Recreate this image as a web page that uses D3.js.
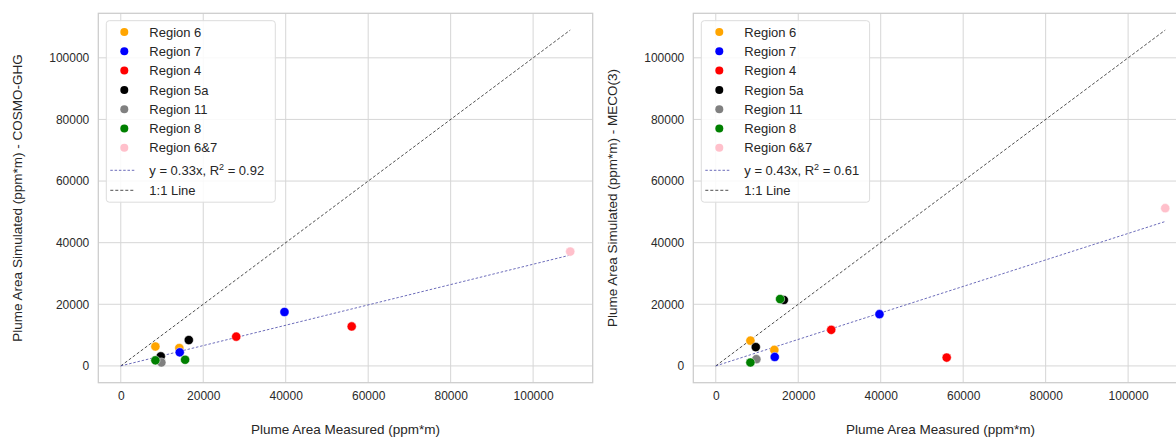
<!DOCTYPE html>
<html>
<head>
<meta charset="utf-8">
<script src="https://cdn.jsdelivr.net/npm/d3@7"></script>
<style>
  body { margin: 0; background: #fff; }
  text { font-family: Arial, "Liberation Sans", sans-serif; }
</style>
</head>
<body>
<script>
// legend order and colours
const regions = ["Region 6", "Region 7", "Region 4", "Region 5a", "Region 11", "Region 8", "Region 6&7"];
const regionColors = ["orange", "blue", "red", "black", "grey", "green", "pink"];

// one entry per plume, grouped by region (same order as legend)
const pointRegion = ["Region 6", "Region 6", "Region 7", "Region 7", "Region 4", "Region 4",
  "Region 5a", "Region 5a", "Region 11", "Region 8", "Region 8", "Region 6&7"];
const measured  = [8400, 14200, 14300, 39700, 28000, 56000, 9700, 16500, 9850, 8400, 15600, 109000];
const simCosmo  = [6300, 5800, 4400, 17500, 9500, 12800, 3100, 8400, 1100, 1800, 2000, 37100];
const simMeco   = [8200, 5200, 2900, 16800, 11700, 2700, 6100, 21400, 2200, 1100, 21700, 51200];

const slopeCosmo = 0.33, r2Cosmo = "0.92";
const slopeMeco = 0.43, r2Meco = "0.61";
const tickValues = [0, 20000, 40000, 60000, 80000, 100000];

const W = 1176, H = 439;
const boxW = 494.4, boxH = 369.4, boxTop = 13.3;
const svg = d3.select("body").append("svg").attr("width", W).attr("height", H);

const maxX = d3.max(measured);
const pad = maxX * 0.05;
const domain = [-pad, maxX + pad];

function drawPanel(left, sims, slope, r2, yLabel) {
  const x = d3.scaleLinear().domain(domain).range([left, left + boxW]);
  const y = d3.scaleLinear().domain(domain).range([boxTop + boxH, boxTop]);
  const g = svg.append("g");

  // grid
  g.selectAll(".gx").data(tickValues).enter().append("line")
    .attr("x1", d => x(d)).attr("x2", d => x(d))
    .attr("y1", boxTop).attr("y2", boxTop + boxH)
    .attr("stroke", "#d6d6d6").attr("stroke-width", 1);
  g.selectAll(".gy").data(tickValues).enter().append("line")
    .attr("x1", left).attr("x2", left + boxW)
    .attr("y1", d => y(d)).attr("y2", d => y(d))
    .attr("stroke", "#d6d6d6").attr("stroke-width", 1);

  // axes (labels only, seaborn whitegrid style)
  const xAxis = g.append("g").attr("transform", "translate(0," + (boxTop + boxH) + ")")
    .call(d3.axisBottom(x).tickValues(tickValues).tickFormat(d3.format("d")).tickSize(0).tickPadding(9));
  const yAxis = g.append("g").attr("transform", "translate(" + left + ",0)")
    .call(d3.axisLeft(y).tickValues(tickValues).tickFormat(d3.format("d")).tickSize(0).tickPadding(9));
  [xAxis, yAxis].forEach(a => {
    a.select(".domain").remove();
    a.selectAll("text").attr("fill", "#2a2a2a").style("font-size", "12px");
  });

  // frame
  g.append("rect").attr("x", left).attr("y", boxTop).attr("width", boxW).attr("height", boxH)
    .attr("fill", "none").attr("stroke", "#cccccc").attr("stroke-width", 1.25);

  const line = d3.line().x(d => x(d[0])).y(d => y(d[1]));
  g.append("path").datum([[0, 0], [maxX, maxX]]).attr("d", line)
    .attr("fill", "none").attr("stroke", "#222").attr("stroke-width", 0.8).attr("stroke-dasharray", "3,2");
  g.append("path").datum([[0, 0], [maxX, maxX * slope]]).attr("d", line)
    .attr("fill", "none").attr("stroke", "#4848a8").attr("stroke-width", 0.8).attr("stroke-dasharray", "2.5,1.8");

  // points
  const color = d3.scaleOrdinal().domain(regions).range(regionColors);
  g.selectAll(".pt").data(measured.map((m, i) => ({ m, s: sims[i], r: pointRegion[i] })))
    .enter().append("circle")
    .attr("cx", d => x(d.m)).attr("cy", d => y(d.s)).attr("r", 4.6)
    .attr("fill", d => color(d.r)).attr("stroke", "#fff").attr("stroke-width", 0.5);

  // axis titles
  g.append("text").attr("x", left + boxW / 2).attr("y", 434)
    .attr("text-anchor", "middle").attr("fill", "#262626").style("font-size", "13.5px")
    .text("Plume Area Measured (ppm*m)");
  g.append("text").attr("transform", "translate(" + (left - 76) + "," + (boxTop + boxH / 2) + ") rotate(-90)")
    .attr("text-anchor", "middle").attr("fill", "#262626").style("font-size", "13.5px")
    .text(yLabel);

  // legend
  const lx = left + 8, ly = 20.7, rowH = 19.3;
  const lw = left === 98.3 ? 169 : 168.3;
  const lg = g.append("g");
  lg.append("rect").attr("x", lx).attr("y", ly).attr("width", lw).attr("height", 181.5)
    .attr("rx", 3).attr("fill", "#fff").attr("fill-opacity", 0.85)
    .attr("stroke", "#dcdcdc").attr("stroke-width", 1);
  regions.forEach((r, i) => {
    const cy = ly + 11.3 + i * rowH;
    lg.append("circle").attr("cx", lx + 18).attr("cy", cy).attr("r", 4)
      .attr("fill", regionColors[i]);
    lg.append("text").attr("x", lx + 43).attr("y", cy + 4.6).attr("fill", "#262626")
      .style("font-size", "13px").text(r);
  });
  const cyT = ly + 11.3 + 7 * rowH + 3.2;
  const cyL = cyT + rowH + 0.7;
  lg.append("line").attr("x1", lx + 4).attr("x2", lx + 29).attr("y1", cyT).attr("y2", cyT)
    .attr("stroke", "#4848a8").attr("stroke-width", 0.8).attr("stroke-dasharray", "2.5,1.8");
  lg.append("line").attr("x1", lx + 4).attr("x2", lx + 29).attr("y1", cyL).attr("y2", cyL)
    .attr("stroke", "#222").attr("stroke-width", 0.8).attr("stroke-dasharray", "3,2");
  const t = lg.append("text").attr("x", lx + 43).attr("y", cyT + 4.6).attr("fill", "#262626")
    .style("font-size", "13px");
  t.append("tspan").text("y = " + slope.toFixed(2) + "x, R");
  t.append("tspan").attr("dy", -5).style("font-size", "9px").text("2");
  t.append("tspan").attr("dy", 5).text(" = " + r2);
  lg.append("text").attr("x", lx + 43).attr("y", cyL + 4.6).attr("fill", "#262626")
    .style("font-size", "13px").text("1:1 Line");
}

drawPanel(98.3, simCosmo, slopeCosmo, r2Cosmo, "Plume Area Simulated (ppm*m) - COSMO-GHG");
drawPanel(693.3, simMeco, slopeMeco, r2Meco, "Plume Area Simulated (ppm*m) - MECO(3)");
</script>
</body>
</html>
